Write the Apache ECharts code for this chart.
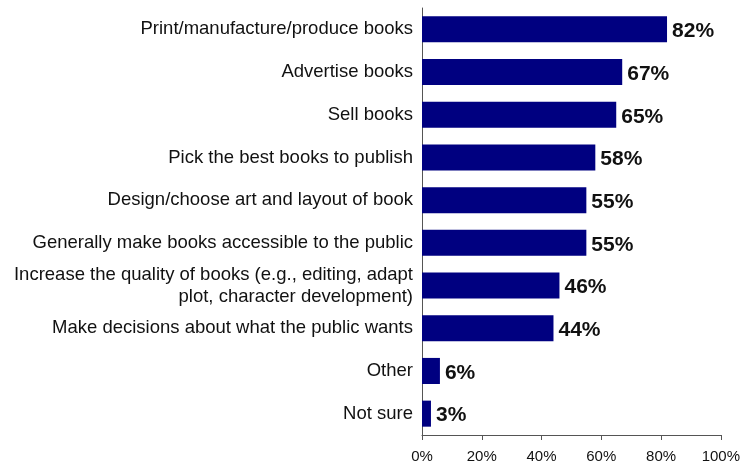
<!DOCTYPE html>
<html><head><meta charset="utf-8">
<script src="https://cdn.jsdelivr.net/npm/echarts@6/dist/echarts.min.js"></script>
<style>html,body{margin:0;padding:0;background:#fff}#c{width:743px;height:464px}</style>
</head><body><div id="c"></div>
<script>
const categories = [
  "Print/manufacture/produce books",
  "Advertise books",
  "Sell books",
  "Pick the best books to publish",
  "Design/choose art and layout of book",
  "Generally make books accessible to the public",
  "Increase the quality of books (e.g., editing, adapt\nplot, character development)",
  "Make decisions about what the public wants",
  "Other",
  "Not sure"
];
const values = [82, 67, 65, 58, 55, 55, 46, 44, 6, 3];
const tickLabels = ["0%", "20%", "40%", "60%", "80%", "100%"];

const chart = echarts.init(document.getElementById('c'));
chart.setOption({
  animation: false,
  grid: { left: 422, right: 20, top: 8, bottom: 28 },
  xAxis: {
    type: 'value', min: 0, max: 100, interval: 20,
    axisLine: { show: true, lineStyle: { color: '#555', width: 1 } },
    axisTick: { show: true, length: 5, lineStyle: { color: '#555' } },
    splitLine: { show: false },
    axisLabel: {
      formatter: v => tickLabels[v / 20],
      color: '#111', fontFamily: 'Liberation Sans', fontSize: 15, margin: 14
    }
  },
  yAxis: {
    type: 'category', inverse: true, data: categories,
    axisLine: { show: true, lineStyle: { color: '#555', width: 1 } },
    axisTick: { show: false },
    axisLabel: {
      color: '#111', fontFamily: 'Liberation Sans', fontSize: 18.5, margin: 9,
      align: 'right', lineHeight: 22
    }
  },
  series: [{
    type: 'bar', data: values, barWidth: '61%',
    itemStyle: { color: '#000080' },
    label: {
      show: true, position: 'right', distance: 5, offset: [0, 2],
      formatter: p => p.value + '%',
      color: '#111', fontFamily: 'Liberation Sans', fontWeight: 'bold', fontSize: 21
    }
  }]
});
</script></body></html>
